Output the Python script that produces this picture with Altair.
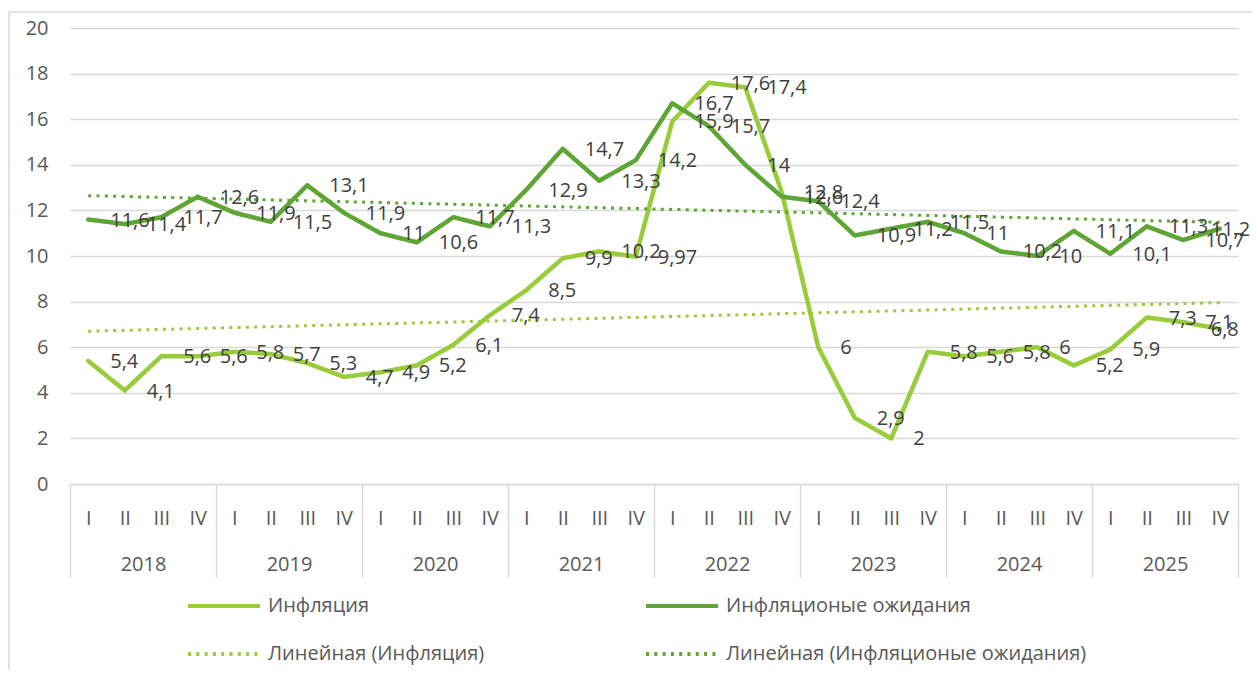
import json
import pandas as pd
import altair as alt

# ---------------- data ----------------
years = ["2018", "2019", "2020", "2021", "2022", "2023", "2024", "2025"]
quarters = ["I", "II", "III", "IV"]
inflation = [5.4, 4.1, 5.6, 5.6,
             5.8, 5.7, 5.3, 4.7,
             4.9, 5.2, 6.1, 7.4,
             8.5, 9.9, 10.2, 9.97,
             15.9, 17.6, 17.4, 12.8,
             6, 2.9, 2, 5.8,
             5.6, 5.8, 6, 5.2,
             5.9, 7.3, 7.1, 6.8]
expectations = [11.6, 11.4, 11.7, 12.6,
                11.9, 11.5, 13.1, 11.9,
                11, 10.6, 11.7, 11.3,
                12.9, 14.7, 13.3, 14.2,
                16.7, 15.7, 14, 12.6,
                12.4, 10.9, 11.2, 11.5,
                11, 10.2, 10, 11.1,
                10.1, 11.3, 10.7, 11.2]
series_names = ["Инфляция", "Инфляционые ожидания"]
trend_names = ["Линейная (Инфляция)", "Линейная (Инфляционые ожидания)"]
y_ticks = list(range(0, 21, 2))

# ---------------- styling ----------------
FONT = "Open Sans"
LIGHT = "#99CC3A"
DARK = "#5EA535"
GRID = "#D9D9D9"
AXIS_TXT = "#595959"
LABEL_TXT = "#404040"

n = len(inflation)
rows = []
for i in range(n):
    for name, vals in zip(series_names, [inflation, expectations]):
        v = vals[i]
        rows.append({"idx": i, "series": name, "value": v,
                     "label": f"{v:g}".replace(".", ","),
                     "last": i == n - 1})
df = pd.DataFrame(rows)

all_names = series_names + trend_names
color_scale = alt.Scale(domain=all_names, range=[LIGHT, DARK, LIGHT, DARK])
dash_scale = alt.Scale(domain=all_names, range=[[1, 0], [1, 0], [3, 5.3], [3, 5.3]])

legend = alt.Legend(title=None, orient="none", legendX=116, legendY=540,
                    direction="horizontal", columns=2, columnPadding=153,
                    rowPadding=-27,
                    symbolType="stroke", symbolSize=5184, symbolStrokeWidth=4,
                    labelFontSize=20, labelFont=FONT, labelColor=AXIS_TXT,
                    labelOffset=6, padding=0, labelLimit=700)

xscale = alt.Scale(domain=[-0.5, n - 0.5], nice=False, zero=False)

yenc = alt.Y("value:Q", scale=alt.Scale(domain=[0, 20], nice=False),
             axis=alt.Axis(values=y_ticks, title=None, grid=True, gridColor=GRID,
                           gridWidth=1.3, domain=False, ticks=False, tickSize=0,
                           labelPadding=22, labelFontSize=20, labelFont=FONT,
                           labelColor=AXIS_TXT))

quarter_axis = alt.Axis(orient="bottom", values=list(range(n)),
                        labelExpr=f"{json.dumps(quarters)}[datum.value % 4]",
                        title=None, ticks=False, tickSize=0, grid=False,
                        domain=True, domainColor=GRID, domainWidth=1.5,
                        labelPadding=24, labelFontSize=20, labelFont=FONT,
                        labelColor=AXIS_TXT, labelFlush=False, labelOverlap=False)

year_axis = alt.Axis(orient="bottom", values=[4 * k + 1.5 for k in range(len(years))],
                     labelExpr=f"{json.dumps(years)}[floor(datum.value / 4)]",
                     title=None, ticks=False, tickSize=0, grid=False, domain=False,
                     labelPadding=70, labelFontSize=20, labelFont=FONT,
                     labelColor=AXIS_TXT, labelFlush=False, labelOverlap=False)

sep_axis = alt.Axis(orient="bottom", values=[4 * k - 0.5 for k in range(len(years) + 1)],
                    labels=False, ticks=True, tickSize=93, tickColor=GRID,
                    tickWidth=1.5, domain=False, grid=False, title=None)

base = alt.Chart(df)

lines = base.mark_line(strokeWidth=4.5, strokeJoin="round", strokeCap="round").encode(
    x=alt.X("idx:Q", scale=xscale, axis=quarter_axis),
    y=yenc,
    color=alt.Color("series:N", scale=color_scale, legend=legend),
    strokeDash=alt.StrokeDash("series:N", scale=dash_scale, legend=legend),
)

trend_expr = (f"datum.series === {json.dumps(series_names[0])} ? "
              f"{json.dumps(trend_names[0])} : {json.dumps(trend_names[1])}")

trends = base.transform_regression("idx", "value", groupby=["series"]).transform_calculate(
    tname=trend_expr
).mark_line(strokeWidth=3).encode(
    x=alt.X("idx:Q", scale=xscale, axis=year_axis),
    y=yenc,
    color=alt.Color("tname:N", scale=color_scale, legend=legend),
    strokeDash=alt.StrokeDash("tname:N", scale=dash_scale, legend=legend),
)

labels = base.transform_filter("!datum.last").mark_text(
    align="left", baseline="middle", dx=22, dy=1,
    fontSize=20, font=FONT, color=LABEL_TXT).encode(
    x=alt.X("idx:Q", scale=xscale, axis=sep_axis),
    y=yenc,
    text="label:N",
)

# labels of the last quarter are pulled inward so they stay inside the chart
labels_last = base.transform_filter("datum.last").mark_text(
    align="left", baseline="middle", dx=-9, dy=1,
    fontSize=20, font=FONT, color=LABEL_TXT).encode(
    x=alt.X("idx:Q", scale=xscale, axis=None),
    y=yenc,
    text="label:N",
)

frame_df = pd.DataFrame({"k": [0]})
frame_left = alt.Chart(frame_df).mark_rule(color=GRID, strokeWidth=1.5).encode(
    x=alt.value(-61), y=alt.value(-16), y2=alt.value(660))
frame_top = alt.Chart(frame_df).mark_rule(color=GRID, strokeWidth=1.5).encode(
    x=alt.value(-61), x2=alt.value(1200), y=alt.value(-16))

chart = alt.layer(frame_left, frame_top, lines, trends, labels, labels_last).resolve_scale(
    x="shared"
).resolve_axis(x="independent").properties(
    width=1168, height=456,
    padding={"left": 62, "top": 20, "right": 14, "bottom": 186},
    autosize=alt.AutoSizeParams(type="none"),
    background="white",
).configure_view(strokeWidth=0)

chart.save("out.html", embed_options={"renderer": "svg", "actions": False})
